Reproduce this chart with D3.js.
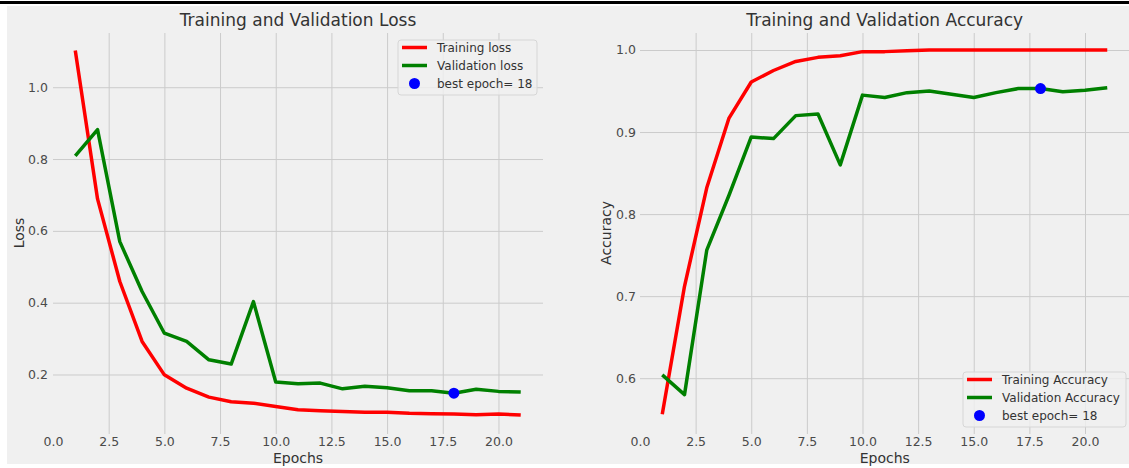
<!DOCTYPE html>
<html>
<head>
<meta charset="utf-8">
<script src="https://cdn.jsdelivr.net/npm/d3@7/dist/d3.min.js"></script>
<style>
  html, body { margin: 0; padding: 0; background: #ffffff; }
  svg { display: block; font-family: "DejaVu Sans", sans-serif; }
</style>
</head>
<body>
<svg id="chart" width="1129" height="468"></svg>
<script>
// ---- Data ----
const epochs = [1,2,3,4,5,6,7,8,9,10,11,12,13,14,15,16,17,18,19,20,21];
const trainLoss = [1.102,0.689,0.459,0.292,0.199,0.162,0.137,0.124,0.120,0.111,0.102,0.099,0.097,0.095,0.095,0.092,0.091,0.090,0.088,0.090,0.087];
const valLoss   = [0.809,0.882,0.570,0.431,0.315,0.292,0.241,0.229,0.403,0.179,0.174,0.176,0.160,0.167,0.163,0.155,0.155,0.148,0.159,0.153,0.151];
const trainAcc  = [0.556,0.712,0.832,0.917,0.961,0.975,0.986,0.991,0.993,0.998,0.998,0.999,1.000,1.000,1.000,1.000,1.000,1.000,1.000,1.000,1.000];
const valAcc    = [0.604,0.580,0.756,0.823,0.894,0.892,0.920,0.922,0.860,0.945,0.942,0.948,0.950,0.946,0.942,0.948,0.953,0.953,0.949,0.951,0.954];
const bestEpoch = 18;
const xTicks = [0,2.5,5,7.5,10,12.5,15,17.5,20];
const lossTicks = [0.2,0.4,0.6,0.8,1.0];
const accTicks = [0.6,0.7,0.8,0.9,1.0];
const lossLegend = ["Training loss","Validation loss","best epoch= 18"];
const accLegend = ["Training Accuracy","Validation Accuracy","best epoch= 18"];

const svg = d3.select("#chart");
// figure background
svg.append("rect").attr("x",0).attr("y",0).attr("width",1129).attr("height",468).attr("fill","#ffffff");
svg.append("rect").attr("x",0).attr("y",1).attr("width",1129).attr("height",3).attr("fill","#000000");
svg.append("rect").attr("x",7).attr("y",6).attr("width",1122).attr("height",458).attr("fill","#f0f0f0");

function panel(opts) {
  const x = d3.scaleLinear().domain([0,22]).range([opts.left, opts.right]);
  const y = d3.scaleLinear().domain(opts.ydom).range([434, 33]);
  const g = svg.append("g");
  const clipId = "clip" + opts.id;
  svg.append("clipPath").attr("id", clipId).append("rect")
    .attr("x", opts.left).attr("y", 33).attr("width", opts.right - opts.left).attr("height", 401);

  // grid
  const gx = g.append("g").attr("transform", `translate(0,434)`)
    .call(d3.axisBottom(x).tickValues(xTicks.filter(d => d > 0)).tickSize(-401).tickFormat(""));
  gx.select(".domain").remove();
  gx.selectAll("line").attr("stroke","#cbcbcb").attr("stroke-width",1);
  const gy = g.append("g").attr("transform", `translate(${opts.left},0)`)
    .call(d3.axisLeft(y).tickValues(opts.yticks).tickSize(-(opts.right - opts.left)).tickFormat(""));
  gy.select(".domain").remove();
  gy.selectAll("line").attr("stroke","#cbcbcb").attr("stroke-width",1);

  // tick labels
  const ax = g.append("g").attr("transform", `translate(0,434)`)
    .call(d3.axisBottom(x).tickValues(xTicks).tickSize(0).tickPadding(3).tickFormat(d3.format(".1f")));
  ax.select(".domain").remove();
  ax.selectAll("text").attr("fill","#4a4a4a").style("font-size","12.5px").style("font-family","DejaVu Sans");
  const ay = g.append("g").attr("transform", `translate(${opts.left},0)`)
    .call(d3.axisLeft(y).tickValues(opts.yticks).tickSize(0).tickPadding(opts.ypad).tickFormat(d3.format(".1f")));
  ay.select(".domain").remove();
  ay.selectAll("text").attr("fill","#4a4a4a").style("font-size","12.5px").style("font-family","DejaVu Sans");

  // lines
  const line = (arr) => d3.line().x((d,i) => x(epochs[i])).y(d => y(d))(arr);
  const lg = g.append("g").attr("clip-path", `url(#${clipId})`);
  lg.append("path").attr("d", line(opts.train)).attr("fill","none").attr("stroke","#ff0000")
    .attr("stroke-width",3.5).attr("stroke-linejoin","round").attr("stroke-linecap","butt");
  lg.append("path").attr("d", line(opts.val)).attr("fill","none").attr("stroke","#008000")
    .attr("stroke-width",3.5).attr("stroke-linejoin","round").attr("stroke-linecap","butt");
  const bi = epochs.indexOf(bestEpoch);
  lg.append("circle").attr("cx", x(bestEpoch)).attr("cy", y(opts.val[bi])).attr("r",5.5).attr("fill","#0000ff");

  // title & labels
  const cx = (opts.left + opts.right) / 2;
  g.append("text").attr("x", cx).attr("y", 26).attr("text-anchor","middle")
    .attr("fill","#333").style("font-size","17px").text(opts.title);
  g.append("text").attr("x", cx).attr("y", 463).attr("text-anchor","middle")
    .attr("fill","#333").style("font-size","14px").text("Epochs");
  g.append("text").attr("transform", `translate(${opts.ylabX},233) rotate(-90)`).attr("text-anchor","middle")
    .attr("fill","#333").style("font-size","14px").text(opts.ylabel);

  // legend
  const L = opts.legend;
  g.append("rect").attr("x", L.x).attr("y", L.y).attr("width", L.w).attr("height", L.h)
    .attr("rx",3).attr("fill","#f0f0f0").attr("fill-opacity",0.8).attr("stroke","#d6d6d6").attr("stroke-width",1);
  const colors = ["#ff0000","#008000"];
  opts.legendLabels.forEach((lab, i) => {
    const ry = L.y + 7.5 + i * 18;
    if (i < 2) {
      g.append("line").attr("x1", L.x + 4).attr("x2", L.x + 29).attr("y1", ry).attr("y2", ry)
        .attr("stroke", colors[i]).attr("stroke-width",3.5);
    } else {
      g.append("circle").attr("cx", L.x + 16.5).attr("cy", ry).attr("r",5.5).attr("fill","#0000ff");
    }
    g.append("text").attr("x", L.x + 39).attr("y", ry + 4).attr("fill","#333")
      .style("font-size","12px").text(lab);
  });
}

panel({id:"L", left:53, right:543, ydom:[0.0343,1.151], yticks:lossTicks, ypad:5,
  train:trainLoss, val:valLoss, title:"Training and Validation Loss", ylabel:"Loss", ylabX:24,
  legend:{x:398, y:40, w:139, h:55}, legendLabels:lossLegend});
panel({id:"R", left:640, right:1129.5, ydom:[0.532,1.0207], yticks:accTicks, ypad:4,
  train:trainAcc, val:valAcc, title:"Training and Validation Accuracy", ylabel:"Accuracy", ylabX:611,
  legend:{x:963, y:372, w:163, h:55}, legendLabels:accLegend});
</script>
</body>
</html>
